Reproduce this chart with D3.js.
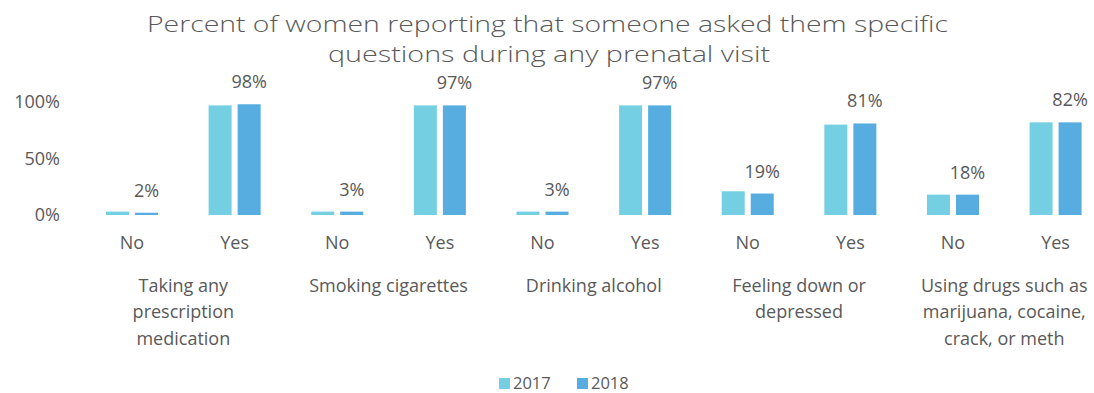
<!DOCTYPE html>
<html>
<head>
    <meta charset="utf-8">
    <title>Prenatal visit questions</title>
    <script src="https://d3js.org/d3.v7.min.js"></script>
    <style>
        body {
            margin: 0;
            background: #fff;
        }

        text {
            font-family: "Open Sans", sans-serif;
            fill: #595959;
        }

        .title {
            font-weight: 300;
            font-size: 21.5px;
        }
    </style>
</head>
<body>
    <div id="chart"></div>
    <script>
        // data
        var groups = ["Taking any prescription medication", "Smoking cigarettes", "Drinking alcohol",
            "Feeling down or depressed", "Using drugs such as marijuana, cocaine, crack, or meth"];
        var groupLines = [
            ["Taking any", "prescription", "medication"],
            ["Smoking cigarettes"],
            ["Drinking alcohol"],
            ["Feeling down or", "depressed"],
            ["Using drugs such as", "marijuana, cocaine,", "crack, or meth"]
        ];
        var answers = ["No", "Yes"];
        var years = ["2017", "2018"];
        var values2017 = [3, 97, 3, 97, 3, 97, 21, 80, 18, 82];
        var values2018 = [2, 98, 3, 97, 3, 97, 19, 81, 18, 82];
        var yTicks = [0, 50, 100];
        var titleLines = ["Percent of women reporting that someone asked them specific",
            "questions during any prenatal visit"];

        var colors = { "2017": "#74CFE3", "2018": "#57ADE0" };

        var W = 1094, H = 393;
        var svg = d3.select("#chart").append("svg")
            .attr("width", W)
            .attr("height", H);

        // one row per bar category (group x answer)
        var rows = [];
        groups.forEach(function (g, gi) {
            answers.forEach(function (a, ai) {
                var i = gi * answers.length + ai;
                rows.push({ key: g + "|" + a, group: g, answer: a, "2017": values2017[i], "2018": values2018[i] });
            });
        });

        var x0 = d3.scaleBand()
            .domain(rows.map(d => d.key))
            .range([80.7, 1106.9])
            .paddingInner(0.493)
            .paddingOuter(0.2465);

        var x1 = d3.scaleBand()
            .domain(years)
            .range([0, x0.bandwidth()])
            .paddingInner(0.207);

        var y = d3.scaleLinear()
            .domain([0, 100])
            .range([215, 102]);

        // title
        svg.selectAll("text.title")
            .data(titleLines)
            .join("text")
            .attr("class", "title")
            .attr("x", (d, i) => i == 0 ? 147 : 328)
            .attr("y", (d, i) => 32 + i * 30)
            .attr("textLength", (d, i) => i == 0 ? 801 : 442)
            .attr("lengthAdjust", "spacingAndGlyphs")
            .text(d => d);

        // y axis labels
        var yAxis = svg.append("g")
            .attr("transform", "translate(60,0)")
            .call(d3.axisLeft(y).tickValues(yTicks).tickFormat(d => d + "%").tickSize(0).tickPadding(0));
        yAxis.select(".domain").remove();
        yAxis.selectAll("text")
            .style("font-family", "Open Sans")
            .style("font-size", "18px")
            .attr("fill", "#595959");

        // bars
        var cat = svg.append("g").selectAll("g")
            .data(rows)
            .join("g")
            .attr("transform", d => `translate(${x0(d.key)},0)`);

        cat.selectAll("rect")
            .data(d => years.map(yr => ({ year: yr, value: d[yr] })))
            .join("rect")
            .attr("x", d => x1(d.year))
            .attr("y", d => y(d.value))
            .attr("width", x1.bandwidth())
            .attr("height", d => y(0) - y(d.value))
            .attr("fill", d => colors[d.year]);

        // value labels (2018 only)
        cat.append("text")
            .attr("x", x1("2018") + x1.bandwidth() / 2)
            .attr("y", d => y(d["2018"]) - 16)
            .attr("text-anchor", "middle")
            .style("font-size", "18px")
            .text(d => d["2018"] + "%");

        // answer labels
        cat.append("text")
            .attr("x", x0.bandwidth() / 2)
            .attr("y", 249)
            .attr("text-anchor", "middle")
            .style("font-size", "18px")
            .text(d => d.answer);

        // group labels
        svg.append("g").selectAll("text")
            .data(groups)
            .join("text")
            .attr("text-anchor", "middle")
            .style("font-size", "18px")
            .attr("transform", (d, i) => {
                var first = x0(d + "|" + answers[0]);
                var last = x0(d + "|" + answers[answers.length - 1]);
                return `translate(${(first + last + x0.bandwidth()) / 2},291.5)`;
            })
            .selectAll("tspan")
            .data((d, i) => groupLines[i])
            .join("tspan")
            .attr("x", 0)
            .attr("y", (d, i) => i * 26.5)
            .text(d => d);

        // legend
        var legend = svg.append("g")
            .selectAll("g")
            .data(years)
            .join("g")
            .attr("transform", (d, i) => `translate(${499 + i * 78},378)`);
        legend.append("rect")
            .attr("width", 11)
            .attr("height", 11)
            .attr("fill", d => colors[d]);
        legend.append("text")
            .attr("x", 14)
            .attr("y", 11)
            .style("font-size", "16.5px")
            .text(d => d);
    </script>
</body>
</html>
